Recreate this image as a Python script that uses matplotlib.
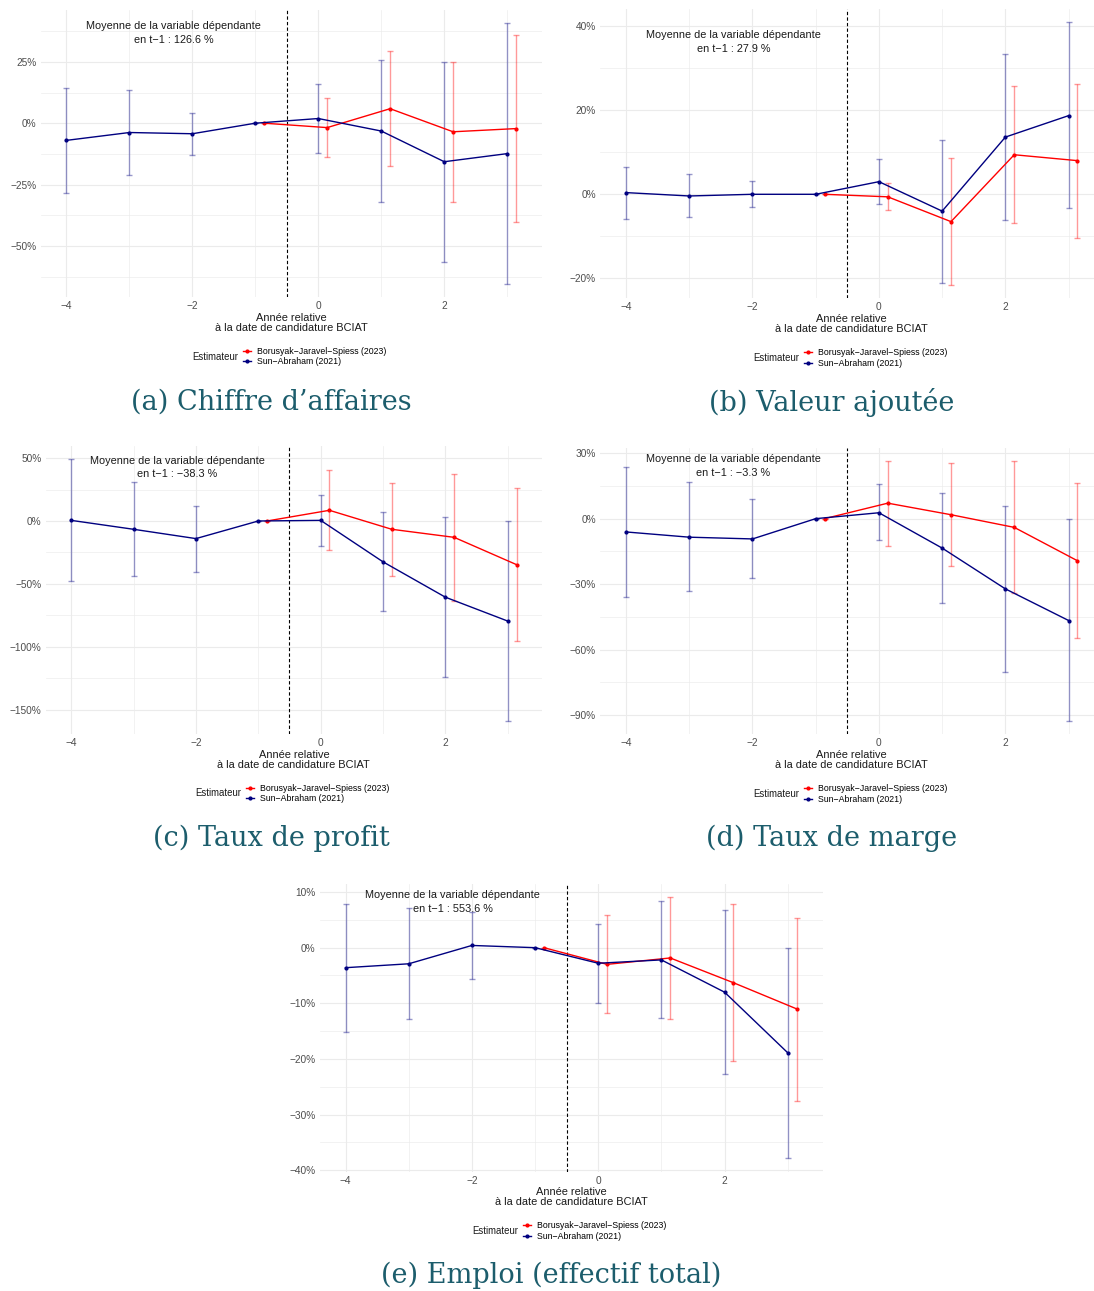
import matplotlib
matplotlib.use("Agg")
import matplotlib.pyplot as plt
from matplotlib.lines import Line2D
from matplotlib.ticker import MultipleLocator, FuncFormatter
import numpy as np

plt.rcParams['font.family'] = ['Liberation Sans', 'DejaVu Sans']

# temps relatif
sa_t = np.array([-4, -3, -2, -1, 0, 1, 2, 3])
bjs_t = np.array([-1, 0, 1, 2, 3])

# (a) Chiffre d'affaires
ca_sa = [-7.0, -3.8, -4.3, 0, 1.9, -3.2, -15.7, -12.4]
ca_sa_lo = [-28.6, -21.0, -12.8, 0, -12.3, -32.0, -56.4, -65.5]
ca_sa_hi = [14.5, 13.5, 4.1, 0, 16.0, 25.7, 25.0, 40.8]
ca_bjs = [0, -1.8, 5.9, -3.5, -2.2]
ca_bjs_lo = [0, -13.9, -17.6, -32.0, -40.1]
ca_bjs_hi = [0, 10.4, 29.5, 25.0, 36.0]

# (b) Valeur ajoutee
va_sa = [0.4, -0.4, 0.0, 0, 3.0, -4.0, 13.6, 18.7]
va_sa_lo = [-5.8, -5.5, -3.1, 0, -2.3, -21.1, -6.2, -3.3]
va_sa_hi = [6.6, 4.8, 3.1, 0, 8.4, 13.0, 33.3, 40.9]
va_bjs = [0, -0.6, -6.5, 9.4, 8.0]
va_bjs_lo = [0, -3.7, -21.6, -6.9, -10.3]
va_bjs_hi = [0, 2.6, 8.6, 25.7, 26.3]

# (c) Taux de profit
tp_sa = [0.5, -6.6, -14.0, 0, 0.5, -32.5, -60.6, -79.6]
tp_sa_lo = [-47.9, -43.9, -40.2, 0, -20.1, -71.7, -124.0, -159.0]
tp_sa_hi = [49.0, 30.7, 12.2, 0, 20.4, 6.9, 2.9, 0.0]
tp_bjs = [0, 8.5, -6.6, -13.0, -34.7]
tp_bjs_lo = [0, -23.0, -43.9, -63.5, -95.5]
tp_bjs_hi = [0, 40.2, 30.4, 37.6, 26.5]

# (d) Taux de marge
tm_sa = [-6.1, -8.5, -9.3, 0, 2.7, -13.5, -32.2, -46.7]
tm_sa_lo = [-35.7, -33.4, -27.1, 0, -10.0, -38.6, -70.4, -92.9]
tm_sa_hi = [23.6, 16.6, 8.8, 0, 15.7, 11.6, 5.8, 0.0]
tm_bjs = [0, 7.1, 1.8, -4.0, -19.3]
tm_bjs_lo = [0, -12.5, -21.9, -34.3, -54.9]
tm_bjs_hi = [0, 26.6, 25.4, 26.3, 16.3]

# (e) Emploi
em_sa = [-3.6, -2.9, 0.4, 0, -2.8, -2.2, -8.0, -18.9]
em_sa_lo = [-15.2, -12.9, -5.6, 0, -10.0, -12.7, -22.7, -37.9]
em_sa_hi = [7.9, 7.2, 6.4, 0, 4.3, 8.4, 6.8, 0.0]
em_bjs = [0, -3.0, -1.85, -6.3, -11.0]
em_bjs_lo = [0, -11.8, -12.8, -20.4, -27.5]
em_bjs_hi = [0, 5.9, 9.1, 7.8, 5.4]

means = ["126.6 %", "27.9 %", "\u221238.3 %", "\u22123.3 %", "553.6 %"]
captions = ["(a) Chiffre d\u2019affaires", "(b) Valeur ajout\u00e9e", "(c) Taux de profit",
            "(d) Taux de marge", "(e) Emploi (effectif total)"]
labels = ["Borusyak\u2212Jaravel\u2212Spiess (2023)", "Sun\u2212Abraham (2021)"]

# mise en page (pixels)
W, H = 1094, 1291
boxes = [(40.5, 10, 542, 297), (600, 9.1, 1103.5, 298.3), (45.5, 446.3, 542.2, 734),
         (600, 447.6, 1103.5, 734.3), (319.5, 884, 822.6, 1171.5)]
cap_pos = [(271, 402), (832, 402), (271.5, 838), (832, 838), (551, 1275)]
steps = [25, 20, 50, 30, 10]
txt_y = [39.9, 38.1, 49.0, 27.8, 9.6]

RED = '#FF0000'
NAVY = '#000080'
TEAL = '#1c5d6c'
DODGE = 0.14

panels = [
    (ca_sa, ca_sa_lo, ca_sa_hi, ca_bjs, ca_bjs_lo, ca_bjs_hi),
    (va_sa, va_sa_lo, va_sa_hi, va_bjs, va_bjs_lo, va_bjs_hi),
    (tp_sa, tp_sa_lo, tp_sa_hi, tp_bjs, tp_bjs_lo, tp_bjs_hi),
    (tm_sa, tm_sa_lo, tm_sa_hi, tm_bjs, tm_bjs_lo, tm_bjs_hi),
    (em_sa, em_sa_lo, em_sa_hi, em_bjs, em_bjs_lo, em_bjs_hi),
]


def pct(v, pos):
    return ("%d%%" % round(v)).replace("-", "\u2212")


def num(v, pos):
    return ("%d" % round(v)).replace("-", "\u2212")


fig = plt.figure(figsize=(W / 100, H / 100), dpi=100)
fig.patch.set_facecolor('white')

for i, (sa, sa_lo, sa_hi, bj, bj_lo, bj_hi) in enumerate(panels):
    l, t, r, b = boxes[i]
    ax = fig.add_axes([l / W, 1 - b / H, (r - l) / W, (b - t) / H])
    sa, sa_lo, sa_hi = np.array(sa), np.array(sa_lo), np.array(sa_hi)
    bj, bj_lo, bj_hi = np.array(bj), np.array(bj_lo), np.array(bj_hi)
    xb = bjs_t + DODGE

    ax.errorbar(sa_t, sa, yerr=[sa - sa_lo, sa_hi - sa], fmt='none', ecolor=NAVY,
                alpha=0.4, elinewidth=1.0, capsize=2.3, capthick=1.0, zorder=2)
    ax.errorbar(xb, bj, yerr=[bj - bj_lo, bj_hi - bj], fmt='none', ecolor=RED,
                alpha=0.4, elinewidth=1.0, capsize=2.3, capthick=1.0, zorder=2)
    ax.plot(xb, bj, color=RED, lw=1.0, marker='o', ms=2.0, zorder=3)
    ax.plot(sa_t, sa, color=NAVY, lw=1.0, marker='o', ms=2.0, zorder=4)
    ax.axvline(-0.5, color='black', lw=0.8, ls=(0, (3, 2)), zorder=1)

    # limites a la ggplot (+5 %)
    x0, x1 = sa_t.min() - 0.05, xb.max() + 0.05
    dx = (x1 - x0) * 0.05
    ax.set_xlim(x0 - dx, x1 + dx)
    y0 = min(sa_lo.min(), bj_lo.min())
    y1 = max(sa_hi.max(), bj_hi.max())
    dy = (y1 - y0) * 0.05
    ax.set_ylim(y0 - dy, y1 + dy)

    ax.xaxis.set_major_locator(MultipleLocator(2))
    ax.xaxis.set_minor_locator(MultipleLocator(1))
    ax.yaxis.set_major_locator(MultipleLocator(steps[i]))
    ax.yaxis.set_minor_locator(MultipleLocator(steps[i] / 2))
    ax.yaxis.set_major_formatter(FuncFormatter(pct))
    ax.xaxis.set_major_formatter(FuncFormatter(num))
    ax.grid(which='major', color='#EBEBEB', lw=0.8, zorder=0)
    ax.grid(which='minor', color='#EBEBEB', lw=0.45, zorder=0)
    ax.set_axisbelow(True)
    for s in ax.spines.values():
        s.set_visible(False)
    ax.tick_params(which='both', length=0, labelsize=7.3, labelcolor='#4D4D4D', pad=3.0)

    ax.set_xlabel("Ann\u00e9e relative\n\u00e0 la date de candidature BCIAT",
                  fontsize=7.9, linespacing=1.0, labelpad=1.0, color='#1a1a1a')

    ax.annotate("Moyenne de la variable d\u00e9pendante\nen t\u22121 : " + means[i],
                xy=(-2.3, txt_y[i]), xytext=(0, -5.8), textcoords='offset points',
                ha='center', va='center', fontsize=7.8, linespacing=1.48,
                color='#1a1a1a', annotation_clip=False)

    # legende sous le graphique
    cx = (l + r) / 2
    ly = b + 59.5
    handles = [Line2D([0], [0], color=RED, lw=1.0, marker='o', ms=2.0),
               Line2D([0], [0], color=NAVY, lw=1.0, marker='o', ms=2.0)]
    fig.legend(handles, labels, loc='center left',
               bbox_to_anchor=((cx - 48) / W, 1 - ly / H), frameon=False,
               fontsize=6.3, handlelength=0.9, handletextpad=0.7,
               labelspacing=0.2, borderpad=0, borderaxespad=0)
    fig.text((cx - 53) / W, 1 - ly / H, "Estimateur", ha='right', va='center',
             fontsize=6.9, color='#1a1a1a')

    cxp, cyp = cap_pos[i]
    fig.text(cxp / W, 1 - cyp / H, captions[i], ha='center', va='center',
             fontsize=19.5, family='DejaVu Serif', color=TEAL)

fig.savefig('out.png', dpi=100)
